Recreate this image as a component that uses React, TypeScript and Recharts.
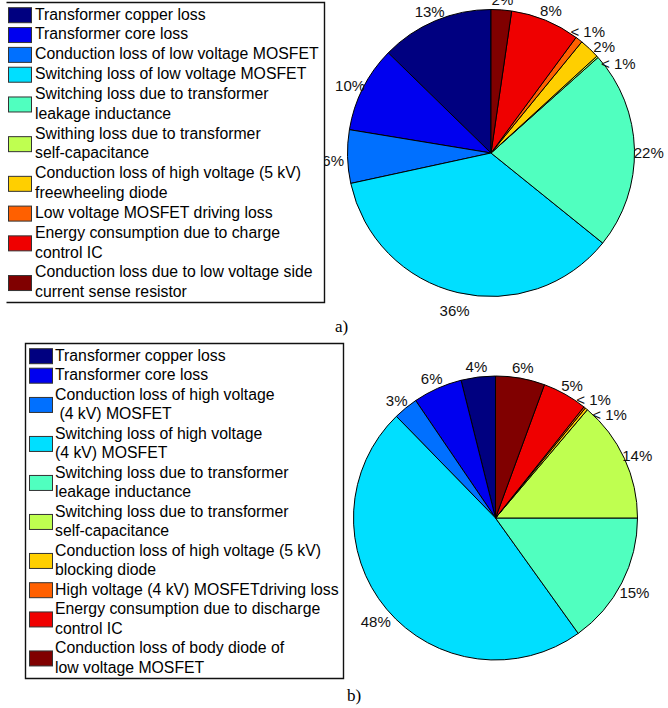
import React from 'react';
import { PieChart, Pie, Cell, Legend } from 'recharts';

// jet colormap, sampled at ten evenly spaced entries
const JET = ['#000080', '#0000EF', '#0070FF', '#00DFFF', '#50FFBF', '#BFFF50', '#FFCF00', '#FF6000', '#EF0000', '#800000'];

// a) loss breakdown, low voltage switch side
const lossNamesA = [
  'Transformer copper loss',
  'Transformer core loss',
  'Conduction loss of low voltage MOSFET',
  'Switching loss of low voltage MOSFET',
  'Switching loss due to transformer\nleakage inductance',
  'Swithing loss due to transformer\nself-capacitance',
  'Conduction loss of high voltage (5 kV)\nfreewheeling diode',
  'Low voltage MOSFET driving loss',
  'Energy consumption due to charge\ncontrol IC',
  'Conduction loss due to low voltage side\ncurrent sense resistor',
];
const lossSharesA = [12.7, 9.7, 6.0, 35.8, 22.4, 0.2, 2.3, 0.8, 7.8, 2.3];

// b) loss breakdown, high voltage switch side
const lossNamesB = [
  'Transformer copper loss',
  'Transformer core loss',
  'Conduction loss of high voltage\n (4 kV) MOSFET',
  'Switching loss of high voltage\n(4 kV) MOSFET',
  'Switching loss due to transformer\nleakage inductance',
  'Switching loss due to transformer\nself-capacitance',
  'Conduction loss of high voltage (5 kV)\nblocking diode',
  'High voltage (4 kV) MOSFETdriving loss',
  'Energy consumption due to discharge\ncontrol IC',
  'Conduction loss of body diode of\nlow voltage MOSFET',
];
const lossSharesB = [3.9, 5.6, 2.8, 47.6, 15.1, 13.8, 0.3, 0.2, 5.1, 5.6];

const SANS = '"Liberation Sans", Arial, Helvetica, sans-serif';
const SERIF = '"Liberation Serif", "Times New Roman", Times, serif';

type Row = { name: string; value: number };
const toRows = (names: string[], shares: number[]): Row[] =>
  names.map((name, i) => ({ name, value: shares[i] }));

// Crowded labels are spread apart: walking clockwise from 12 o'clock,
// every label keeps at least `gap` degrees from the one before it.
function labelShifts(shares: number[], gap: number): number[] {
  const total = shares.reduce((a, b) => a + b, 0);
  let acc = 0;
  const cw = shares.map((v) => {
    const mid = ((acc + v / 2) / total) * 360;
    acc += v;
    return (360 - mid) % 360;
  });
  const order = cw.map((_, i) => i).sort((i, j) => cw[i] - cw[j]);
  const adj = cw.slice();
  let prev = -Infinity;
  for (const i of order) {
    adj[i] = Math.max(cw[i], prev + gap);
    prev = adj[i];
  }
  return cw.map((a, i) => a - adj[i]);
}

const makeLabel = (shifts: number[]) => (props: any) => {
  const { cx, cy, midAngle, outerRadius, percent, index } = props;
  const ang = ((midAngle + shifts[index]) * Math.PI) / 180;
  const r = outerRadius * 1.1;
  const x = cx + r * Math.cos(-ang);
  const y = cy + r * Math.sin(-ang);
  const pct = percent * 100;
  const text = pct < 1 ? '< 1%' : `${Math.round(pct)}%`;
  return (
    <text key={`lbl-${index}`} x={x} y={y + 9} textAnchor="middle" fontFamily={SANS} fontSize={15} fill="#111">
      {text}
    </text>
  );
};

type LegendBox = {
  left: number; top: number; right: number; bottom: number;
  openLeft: boolean; swatchX: number; textX: number; firstBaseline: number; step: number;
};

function LossLegend({ names, colors, box, originY }: { names: string[]; colors: string[]; box: LegendBox; originY: number }) {
  const top = box.top - originY;
  const bottom = box.bottom - originY;
  let line = 0;
  const items = names.map((name, i) => {
    const lines = name.split('\n');
    const base0 = box.firstBaseline - originY + line * box.step;
    const swatchMid = base0 - 4.3 + ((lines.length - 1) * box.step) / 2;
    line += lines.length;
    return (
      <g key={name}>
        <rect x={box.swatchX} y={swatchMid - 7.5} width={23} height={15} fill={colors[i]} stroke="#333" strokeWidth={1} />
        {lines.map((t, k) => (
          <text key={k} x={box.textX} y={base0 + k * box.step} fontFamily={SANS} fontSize={15.8} fill="#000" style={{ whiteSpace: 'pre' }}>
            {t}
          </text>
        ))}
      </g>
    );
  });
  const frame = box.openLeft
    ? `M${box.left},${top} H${box.right} V${bottom} H${box.left}`
    : `M${box.left},${top} H${box.right} V${bottom} H${box.left} Z`;
  return (
    <svg width={box.right + 2} height={bottom + 2} style={{ display: 'block' }}>
      <rect x={box.openLeft ? 0 : box.left} y={box.openLeft ? 0 : top} width={box.right - (box.openLeft ? 0 : box.left)} height={bottom - (box.openLeft ? 0 : top)} fill="#fff" />
      <path d={frame} fill="none" stroke="#111" strokeWidth={1.4} />
      {items}
    </svg>
  );
}

const rowsA = toRows(lossNamesA, lossSharesA);
const rowsB = toRows(lossNamesB, lossSharesB);
const labelA = makeLabel(labelShifts(lossSharesA, 8));
const labelB = makeLabel(labelShifts(lossSharesB, 8));

const boxA: LegendBox = { left: 6.5, top: 2.5, right: 324.5, bottom: 302.5, openLeft: true, swatchX: 8.5, textX: 35, firstBaseline: 19.5, step: 19.84 };
const boxB: LegendBox = { left: 25.5, top: 343.5, right: 343.5, bottom: 678.5, openLeft: false, swatchX: 29.5, textX: 55, firstBaseline: 360.5, step: 19.5 };

const TOP_B = 340;

export default function App() {
  return (
    <div style={{ position: 'absolute', left: 0, top: 0, width: 668, height: 708, background: '#fff', overflow: 'hidden' }}>
      <div style={{ position: 'absolute', left: 0, top: 0 }}>
        <PieChart width={668} height={TOP_B} margin={{ top: 0, right: 0, bottom: 0, left: 0 }}>
          <Pie
            data={rowsA}
            dataKey="value"
            nameKey="name"
            cx={491}
            cy={153}
            outerRadius={143.5}
            startAngle={90}
            endAngle={450}
            stroke="#000"
            strokeWidth={1}
            label={labelA}
            labelLine={false}
            isAnimationActive={false}
          >
            {rowsA.map((r, i) => (
              <Cell key={r.name} fill={JET[i]} />
            ))}
          </Pie>
          <Legend
            layout="vertical"
            align="center"
            verticalAlign="middle"
            wrapperStyle={{ left: 0, top: 0, width: 330, height: 306 }}
            content={() => <LossLegend names={lossNamesA} colors={JET} box={boxA} originY={0} />}
          />
        </PieChart>
      </div>
      <div style={{ position: 'absolute', left: 0, top: TOP_B }}>
        <PieChart width={668} height={708 - TOP_B} margin={{ top: 0, right: 0, bottom: 0, left: 0 }}>
          <Pie
            data={rowsB}
            dataKey="value"
            nameKey="name"
            cx={495.5}
            cy={518 - TOP_B}
            outerRadius={142}
            startAngle={90}
            endAngle={450}
            stroke="#000"
            strokeWidth={1}
            label={labelB}
            labelLine={false}
            isAnimationActive={false}
          >
            {rowsB.map((r, i) => (
              <Cell key={r.name} fill={JET[i]} />
            ))}
          </Pie>
          <Legend
            layout="vertical"
            align="center"
            verticalAlign="middle"
            wrapperStyle={{ left: 0, top: 0, width: 346, height: 342 }}
            content={() => <LossLegend names={lossNamesB} colors={JET} box={boxB} originY={TOP_B} />}
          />
        </PieChart>
      </div>
      <div style={{ position: 'absolute', left: 335, top: 317, fontFamily: SERIF, fontSize: 17, lineHeight: '20px', color: '#000' }}>a)</div>
      <div style={{ position: 'absolute', left: 347, top: 686, fontFamily: SERIF, fontSize: 17, lineHeight: '20px', color: '#000' }}>b)</div>
    </div>
  );
}
